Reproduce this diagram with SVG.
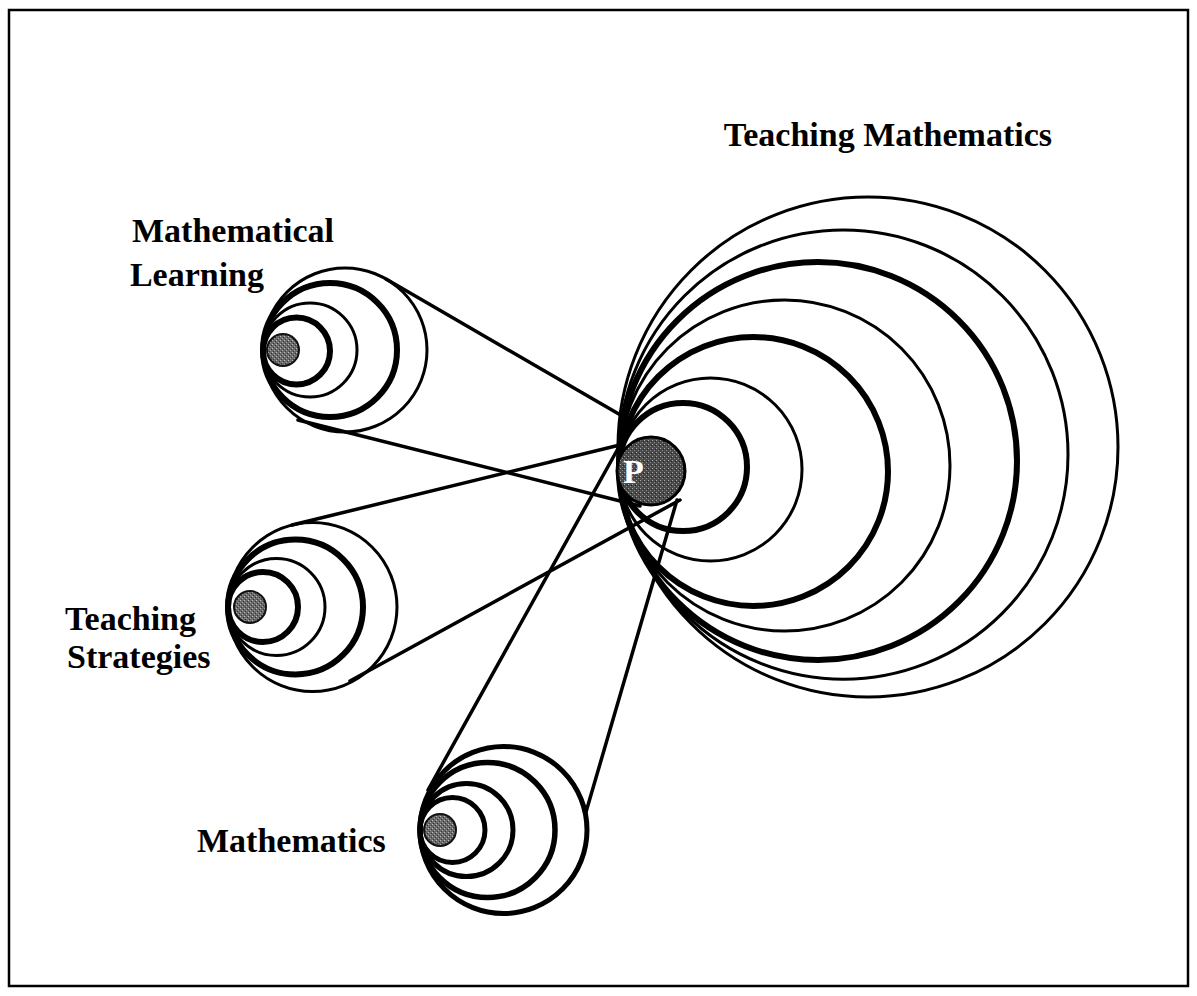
<svg xmlns="http://www.w3.org/2000/svg" width="1197" height="996" viewBox="0 0 1197 996">
<defs>
<pattern id="stip" width="4" height="4" patternUnits="userSpaceOnUse">
<rect width="4" height="4" fill="#6a6a6a"/>
<rect x="0" y="0" width="1" height="1" fill="#bdbdbd"/>
<rect x="2" y="2" width="1" height="1" fill="#a0a0a0"/>
<rect x="3" y="1" width="1" height="1" fill="#333"/>
<rect x="1" y="3" width="1" height="1" fill="#333"/>
</pattern>
<pattern id="stipP" width="4" height="4" patternUnits="userSpaceOnUse">
<rect width="4" height="4" fill="#4a4a4a"/>
<rect x="0" y="0" width="1" height="1" fill="#a8a8a8"/>
<rect x="2" y="2" width="1" height="1" fill="#8a8a8a"/>
<rect x="3" y="1" width="1" height="1" fill="#222"/>
</pattern>
</defs>
<style>
.bg{fill:#fff}
.frame{fill:none;stroke:#000;stroke-width:2.5}
.thin{fill:none;stroke:#000;stroke-width:3}
.thick{fill:none;stroke:#000;stroke-width:6}
.dot{fill:url(#stip);stroke:#111;stroke-width:2}
.pdot{fill:url(#stipP);stroke:#000;stroke-width:3}
.conn{stroke:#000;stroke-width:3.5;stroke-linecap:round;fill:none}
.lbl{font-family:"Liberation Serif","Times New Roman",serif;font-weight:bold;font-size:34px;fill:#000}
.plbl{font-family:"Liberation Serif","Times New Roman",serif;font-weight:bold;font-size:34px;fill:#fff}
</style>
<rect class="bg" x="0" y="0" width="1197" height="996"/>
<rect class="frame" x="9" y="10" width="1179" height="976"/>

<g id="connectors">
<line class="conn" x1="386" y1="279" x2="624" y2="417"/>
<line class="conn" x1="298" y1="420" x2="640" y2="506"/>
<line class="conn" x1="292" y1="525" x2="624" y2="444"/>
<line class="conn" x1="350" y1="681" x2="680" y2="500"/>
<line class="conn" x1="428" y1="790" x2="620" y2="445"/>
<line class="conn" x1="586" y1="812" x2="677" y2="500"/>
</g>

<g id="teaching-mathematics">
<circle class="thin" cx="868" cy="447" r="250"/>
<circle class="thin" cx="843.4" cy="454.6" r="224.6"/>
<circle class="thick" cx="818" cy="461" r="199"/>
<circle class="thin" cx="784.5" cy="465.5" r="165.5"/>
<circle class="thick" cx="753.5" cy="471.5" r="134.5"/>
<circle class="thin" cx="710.5" cy="469.5" r="91.5"/>
<circle class="thick" cx="683" cy="467" r="64"/>
<circle class="pdot" cx="651" cy="471" r="34"/>
<text class="plbl" x="623" y="483">P</text>
<text class="lbl" x="1052" y="146" text-anchor="end">Teaching Mathematics</text>
</g>

<g id="mathematical-learning">
<circle class="thin" cx="345" cy="350" r="82"/>
<circle class="thick" cx="330" cy="350" r="67"/>
<circle class="thin" cx="310" cy="350" r="47"/>
<circle class="thick" cx="296.5" cy="351" r="33.5"/>
<circle class="dot" cx="283" cy="350" r="16"/>
<text class="lbl" x="132" y="242">Mathematical</text>
<text class="lbl" x="264" y="286" text-anchor="end">Learning</text>
</g>

<g id="teaching-strategies">
<circle class="thin" cx="312.5" cy="607" r="84.5"/>
<circle class="thick" cx="295.5" cy="607" r="67.5"/>
<circle class="thin" cx="276.5" cy="607" r="48.5"/>
<circle class="thick" cx="263" cy="607" r="35"/>
<circle class="dot" cx="250" cy="607" r="16"/>
<text class="lbl" x="65" y="630">Teaching</text>
<text class="lbl" x="67" y="668">Strategies</text>
</g>

<g id="mathematics">
<circle class="thick" cx="503.5" cy="830" r="83.5" style="stroke-width:5"/>
<circle class="thick" cx="487.5" cy="830" r="67.5" style="stroke-width:5.5"/>
<circle class="thick" cx="466.5" cy="830" r="46.5" style="stroke-width:5"/>
<circle class="thick" cx="452.5" cy="830" r="32.5" style="stroke-width:5"/>
<circle class="dot" cx="440" cy="830" r="16"/>
<text class="lbl" x="197" y="852">Mathematics</text>
</g>
</svg>
